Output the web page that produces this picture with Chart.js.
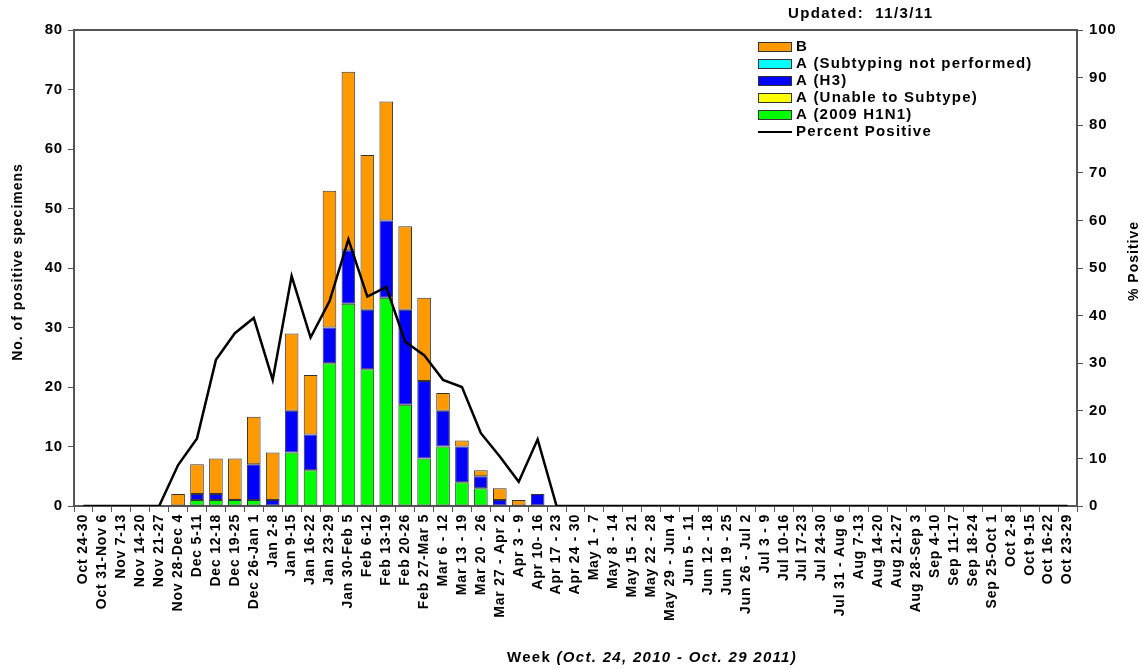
<!DOCTYPE html>
<html>
<head>
<meta charset="utf-8">
<script src="https://cdn.jsdelivr.net/npm/chart.js@4/dist/chart.umd.min.js"></script>
<style>
  body { margin: 0; background: #fff; }
  #wrap { width: 1142px; height: 669px; position: relative; }
</style>
</head>
<body>
<div id="wrap"><canvas id="fluChart"></canvas></div>
<script>
// Weeks, Oct 24 2010 - Oct 29 2011
const weeks = ['Oct 24-30', 'Oct 31-Nov 6', 'Nov 7-13', 'Nov 14-20', 'Nov 21-27', 'Nov 28-Dec 4',
  'Dec 5-11', 'Dec 12-18', 'Dec 19-25', 'Dec 26-Jan 1', 'Jan 2-8', 'Jan 9-15', 'Jan 16-22',
  'Jan 23-29', 'Jan 30-Feb 5', 'Feb 6-12', 'Feb 13-19', 'Feb 20-26', 'Feb 27-Mar 5',
  'Mar 6 - 12', 'Mar 13 - 19', 'Mar 20 - 26', 'Mar 27 - Apr 2', 'Apr 3 - 9', 'Apr 10- 16',
  'Apr 17 - 23', 'Apr 24 - 30', 'May 1 - 7', 'May 8 - 14', 'May 15 - 21', 'May 22 - 28',
  'May 29 - Jun 4', 'Jun 5 - 11', 'Jun 12 - 18', 'Jun 19 - 25', 'Jun 26 - Jul 2', 'Jul 3 - 9',
  'Jul 10-16', 'Jul 17-23', 'Jul 24-30', 'Jul 31 - Aug 6', 'Aug 7-13', 'Aug 14-20', 'Aug 21-27',
  'Aug 28-Sep 3', 'Sep 4-10', 'Sep 11-17', 'Sep 18-24', 'Sep 25-Oct 1', 'Oct 2-8', 'Oct 9-15',
  'Oct 16-22', 'Oct 23-29'];

// stacked counts per week (bottom to top)
const h1n1 = [0, 0, 0, 0, 0, 0, 1, 1, 1, 1, 0, 9, 6, 24, 34, 23, 35, 17, 8, 10, 4, 3, 0, 0, 0,
  0, 0, 0, 0, 0, 0, 0, 0, 0, 0, 0, 0, 0, 0, 0, 0, 0, 0, 0, 0, 0, 0, 0, 0, 0, 0, 0, 0];
const unableToSubtype = [0, 0, 0, 0, 0, 0, 0, 0, 0, 0, 0, 0, 0, 0, 0, 0, 0, 0, 0, 0, 0, 0, 0, 0, 0,
  0, 0, 0, 0, 0, 0, 0, 0, 0, 0, 0, 0, 0, 0, 0, 0, 0, 0, 0, 0, 0, 0, 0, 0, 0, 0, 0, 0];
const h3 = [0, 0, 0, 0, 0, 0, 1, 1, 0, 6, 1, 7, 6, 6, 9, 10, 13, 16, 13, 6, 6, 2, 1, 0, 2,
  0, 0, 0, 0, 0, 0, 0, 0, 0, 0, 0, 0, 0, 0, 0, 0, 0, 0, 0, 0, 0, 0, 0, 0, 0, 0, 0, 0];
const notSubtyped = [0, 0, 0, 0, 0, 0, 0, 0, 0, 0, 0, 0, 0, 0, 0, 0, 0, 0, 0, 0, 0, 0, 0, 0, 0,
  0, 0, 0, 0, 0, 0, 0, 0, 0, 0, 0, 0, 0, 0, 0, 0, 0, 0, 0, 0, 0, 0, 0, 0, 0, 0, 0, 0];
const fluB = [0, 0, 0, 0, 0, 2, 5, 6, 7, 8, 8, 13, 10, 23, 30, 26, 20, 14, 14, 3, 1, 1, 2, 1, 0,
  0, 0, 0, 0, 0, 0, 0, 0, 0, 0, 0, 0, 0, 0, 0, 0, 0, 0, 0, 0, 0, 0, 0, 0, 0, 0, 0, 0];

// percent positive
const pctPositive = [0, 0, 0, 0, 0, 8.6, 14.2, 30.7, 36.3, 39.5, 26.5, 48.3, 35.4, 43, 56, 44, 46,
  34.5, 31.7, 26.5, 25, 15.3, 10.4, 5.1, 14, 0, 0, 0, 0, 0, 0, 0, 0, 0, 0, 0, 0, 0, 0, 0, 0, 0,
  0, 0, 0, 0, 0, 0, 0, 0, 0, 0, 0];

const countTicks = [0, 10, 20, 30, 40, 50, 60, 70, 80];
const pctTicks = [0, 10, 20, 30, 40, 50, 60, 70, 80, 90, 100];

const FONT = '"Liberation Sans", Arial, sans-serif';
const noZero = arr => arr.map(v => (v === 0 ? null : v));

function barSet(label, data, color) {
  return {
    type: 'bar',
    label: label,
    data: noZero(data),
    backgroundColor: color,
    borderColor: '#333',
    borderWidth: 1,
    borderSkipped: false,
    stack: 'flu',
    yAxisID: 'y',
    barPercentage: 0.72,
    categoryPercentage: 1,
    order: 2
  };
}

// wider spacing for the axis labels, like the original
const spacing = {
  id: 'spacing',
  beforeDraw(chart) { chart.ctx.letterSpacing = '0.8px'; }
};

// legend, extra labels and frame
const extras = {
  id: 'extras',
  afterDraw(chart) {
    const ctx = chart.ctx;
    const area = chart.chartArea;
    ctx.save();

    // top frame line
    ctx.strokeStyle = '#555';
    ctx.lineWidth = 2;
    ctx.beginPath();
    ctx.moveTo(area.left, area.top);
    ctx.lineTo(area.right, area.top);
    ctx.stroke();

    // updated text
    ctx.fillStyle = '#000';
    ctx.letterSpacing = '1.4px';
    ctx.font = 'bold 15px ' + FONT;
    ctx.textAlign = 'left';
    ctx.textBaseline = 'middle';
    ctx.fillText('Updated:  11/3/11', 788, 14);

    // legend (top of stack first)
    const ds = chart.data.datasets;
    const items = [ds[4], ds[3], ds[2], ds[1], ds[0], ds[5]];
    ctx.letterSpacing = '1.2px';
    ctx.font = 'bold 15px ' + FONT;
    items.forEach((d, i) => {
      const y = 47 + i * 17;
      if (d.type === 'line') {
        ctx.strokeStyle = '#000';
        ctx.lineWidth = 2;
        ctx.beginPath();
        ctx.moveTo(758, y);
        ctx.lineTo(792, y);
        ctx.stroke();
      } else {
        ctx.fillStyle = d.backgroundColor;
        ctx.fillRect(758, y - 5, 34, 10);
        ctx.strokeStyle = '#333';
        ctx.lineWidth = 1;
        ctx.strokeRect(758.5, y - 4.5, 33, 9);
      }
      ctx.fillStyle = '#000';
      ctx.fillText(d.label, 796, y);
    });

    // x-axis title, mixed style
    const partA = 'Week ';
    const partB = '(Oct. 24, 2010 - Oct. 29 2011)';
    ctx.letterSpacing = '1.3px';
    ctx.font = 'bold 15px ' + FONT;
    const wA = ctx.measureText(partA).width;
    ctx.font = 'italic bold 15px ' + FONT;
    const wB = ctx.measureText(partB).width;
    const x = 652 - (wA + wB) / 2;
    ctx.font = 'bold 15px ' + FONT;
    ctx.fillText(partA, x, 658);
    ctx.font = 'italic bold 15px ' + FONT;
    ctx.fillText(partB, x + wA, 658);

    // axis titles, both read bottom to top
    ctx.textAlign = 'center';
    ctx.letterSpacing = '1px';
    ctx.font = 'bold 14px ' + FONT;
    const midY = (area.top + area.bottom) / 2;
    ctx.save();
    ctx.translate(18, midY - 6);
    ctx.rotate(-Math.PI / 2);
    ctx.fillText('No. of positive specimens', 0, 0);
    ctx.restore();
    ctx.translate(1134, 261);
    ctx.rotate(-Math.PI / 2);
    ctx.fillText('% Positive', 0, 0);
    ctx.restore();
  }
};

const ctxFlu = document.getElementById('fluChart').getContext('2d');
const fluChart = new Chart(ctxFlu, {
  data: {
    labels: weeks,
    datasets: [
      barSet('A (2009 H1N1)', h1n1, '#00FF00'),
      barSet('A (Unable to Subtype)', unableToSubtype, '#FFFF00'),
      barSet('A (H3)', h3, '#0000FF'),
      barSet('A (Subtyping not performed)', notSubtyped, '#00FFFF'),
      barSet('B', fluB, '#FF9900'),
      {
        type: 'line',
        label: 'Percent Positive',
        data: pctPositive,
        borderColor: '#000',
        borderWidth: 2.5,
        pointRadius: 0,
        tension: 0,
        fill: false,
        yAxisID: 'y2',
        order: 1
      }
    ]
  },
  options: {
    responsive: true,
    maintainAspectRatio: false,
    animation: false,
    layout: { padding: { top: 30, left: 0, right: 0, bottom: 0 } },
    plugins: {
      legend: { display: false },
      tooltip: { enabled: false }
    },
    scales: {
      x: {
        stacked: true,
        offset: true,
        afterFit(axis) { axis.height = 163; },
        grid: { display: true, offset: true, drawOnChartArea: false, drawTicks: true, tickLength: 6, color: '#555' },
        border: { color: '#555', width: 2 },
        ticks: {
          autoSkip: false,
          maxRotation: 90,
          minRotation: 90,
          color: '#000',
          padding: 2,
          font: { family: FONT, size: 14, weight: 'bold' }
        }
      },
      y: {
        stacked: true,
        position: 'left',
        min: 0,
        max: 80,
        afterFit(axis) { axis.width = 74; },
        afterBuildTicks(axis) { axis.ticks = countTicks.map(v => ({ value: v })); },
        grid: { drawOnChartArea: false, drawTicks: true, tickLength: 6, color: '#555' },
        border: { color: '#555', width: 2 },
        ticks: { color: '#000', padding: 5, font: { family: FONT, size: 15, weight: 'bold' } }
      },
      y2: {
        position: 'right',
        min: 0,
        max: 100,
        afterFit(axis) { axis.width = 65; },
        afterBuildTicks(axis) { axis.ticks = pctTicks.map(v => ({ value: v })); },
        grid: { drawOnChartArea: false, drawTicks: true, tickLength: 6, color: '#555' },
        border: { color: '#555', width: 2 },
        ticks: { color: '#000', padding: 6, font: { family: FONT, size: 15, weight: 'bold' } }
      }
    }
  },
  plugins: [spacing, extras]
});
</script>
</body>
</html>
